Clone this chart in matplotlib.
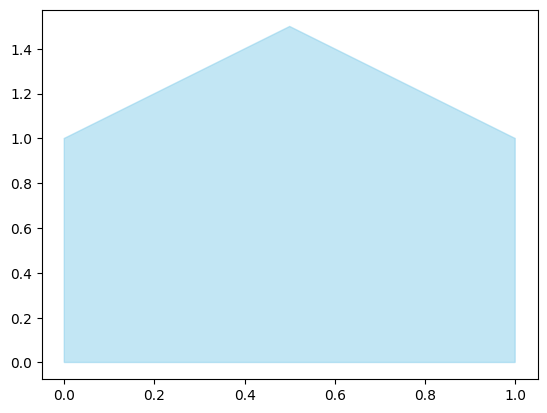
import matplotlib
matplotlib.use("Agg")
import matplotlib.pyplot as plt

x_vals = [0, 0, 0.5, 1, 1]
y_vals = [0, 1, 1.5, 1, 0]

fig, ax = plt.subplots(figsize=(6.4, 4.8), dpi=100)
ax.fill(x_vals, y_vals, color="skyblue", alpha=0.5)
fig.savefig("out.png", dpi=100, bbox_inches="tight")
